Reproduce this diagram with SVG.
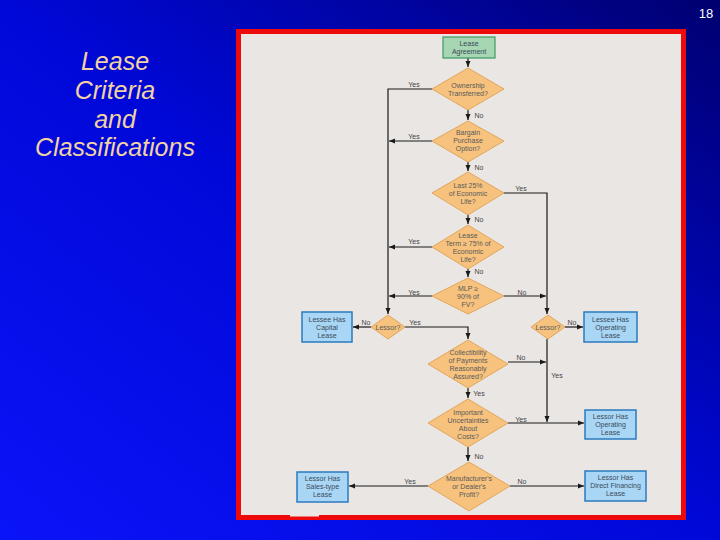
<svg xmlns="http://www.w3.org/2000/svg" width="720" height="540" viewBox="0 0 720 540">
<defs>
<linearGradient id="bg" x1="0" y1="1" x2="1" y2="0">
<stop offset="0" stop-color="#0a14f8"/>
<stop offset="0.5" stop-color="#0008d8"/>
<stop offset="1" stop-color="#000070"/>
</linearGradient>
<marker id="ah" markerUnits="userSpaceOnUse" markerWidth="6" markerHeight="6" refX="6" refY="3" orient="auto">
<path d="M0,0.5 L6,3 L0,5.5 z" fill="#1a1a1a"/>
</marker>
<style>
.dia{fill:#f6c27e;stroke:#e2a65c;stroke-width:1}
.bb{fill:#a9d6f5;stroke:#2b7bbf;stroke-width:1.5}
.bg{fill:#a6d6b2;stroke:#3d9a62;stroke-width:1.2}
.t{font-family:"Liberation Sans",Arial,sans-serif;font-size:7px;fill:#5a5a5a;text-anchor:middle}
.bt{font-family:"Liberation Sans",Arial,sans-serif;font-size:7px;fill:#3a4a5a;text-anchor:middle}
.l{font-family:"Liberation Sans",Arial,sans-serif;font-size:7px;fill:#444;text-anchor:middle}
.ln{stroke:#1a1a1a;stroke-width:1.2;fill:none}
.ttl{font-family:"Liberation Sans",Arial,sans-serif;font-size:25px;font-style:italic;fill:#f2d2a2;text-anchor:middle}
</style>
</defs>
<rect x="0" y="0" width="720" height="540" fill="url(#bg)"/>
<text x="706" y="18" font-family="Liberation Sans,Arial,sans-serif" font-size="13" fill="#ffffff" text-anchor="middle">18</text>
<g id="title">
<text class="ttl" x="115" y="70">Lease</text>
<text class="ttl" x="115" y="99">Criteria</text>
<text class="ttl" x="115" y="128">and</text>
<text class="ttl" x="115" y="156">Classifications</text>
</g>
<rect x="238.5" y="31.5" width="445" height="486" fill="#e9e6e3" stroke="#ee0a0a" stroke-width="5"/>
<rect x="290" y="514" width="29" height="2.5" fill="#e9e6e3"/>

<g id="connectors">
<path class="ln" d="M468,58 V67" marker-end="url(#ah)"/>
<path class="ln" d="M468,110 V120" marker-end="url(#ah)"/>
<path class="ln" d="M468,162 V171" marker-end="url(#ah)"/>
<path class="ln" d="M468,215 V224" marker-end="url(#ah)"/>
<path class="ln" d="M468,269 V277" marker-end="url(#ah)"/>
<path class="ln" d="M432,89 H388 V314" marker-end="url(#ah)"/>
<path class="ln" d="M432,141 H389" marker-end="url(#ah)"/>
<path class="ln" d="M432,247 H389" marker-end="url(#ah)"/>
<path class="ln" d="M432,296 H389" marker-end="url(#ah)"/>
<path class="ln" d="M504,193 H547 V314" marker-end="url(#ah)"/>
<path class="ln" d="M504,296 H546" marker-end="url(#ah)"/>
<path class="ln" d="M371,327 H353" marker-end="url(#ah)"/>
<path class="ln" d="M405,327 H468 V339" marker-end="url(#ah)"/>
<path class="ln" d="M565,327 H583" marker-end="url(#ah)"/>
<path class="ln" d="M547,339 V422" marker-end="url(#ah)"/>
<path class="ln" d="M508,362 H546" marker-end="url(#ah)"/>
<path class="ln" d="M468,388 V398" marker-end="url(#ah)"/>
<path class="ln" d="M508,423 H584" marker-end="url(#ah)"/>
<path class="ln" d="M468,447 V461" marker-end="url(#ah)"/>
<path class="ln" d="M428,486 H349" marker-end="url(#ah)"/>
<path class="ln" d="M510,486 H584" marker-end="url(#ah)"/>
<text class="l" x="414" y="87">Yes</text>
<text class="l" x="479" y="118">No</text>
<text class="l" x="414" y="139">Yes</text>
<text class="l" x="479" y="170">No</text>
<text class="l" x="521" y="191">Yes</text>
<text class="l" x="479" y="222">No</text>
<text class="l" x="414" y="244">Yes</text>
<text class="l" x="479" y="274">No</text>
<text class="l" x="414" y="295">Yes</text>
<text class="l" x="522" y="295">No</text>
<text class="l" x="366" y="325">No</text>
<text class="l" x="415" y="325">Yes</text>
<text class="l" x="572" y="325">No</text>
<text class="l" x="557" y="378">Yes</text>
<text class="l" x="521" y="360">No</text>
<text class="l" x="479" y="396">Yes</text>
<text class="l" x="521" y="422">Yes</text>
<text class="l" x="479" y="459">No</text>
<text class="l" x="410" y="484">Yes</text>
<text class="l" x="522" y="484">No</text>
</g>

<g id="lease-agreement">
<rect class="bg" x="443" y="37" width="52" height="21"/>
<text class="bt" x="469" y="46">Lease</text>
<text class="bt" x="469" y="54">Agreement</text>
</g>
<g id="ownership">
<polygon class="dia" points="468,68 504,89 468,110 432,89"/>
<text class="t" x="468" y="88">Ownership</text>
<text class="t" x="468" y="96">Transferred?</text>
</g>
<g id="bargain">
<polygon class="dia" points="468,121 504,141 468,162 432,141"/>
<text class="t" x="468" y="135">Bargain</text>
<text class="t" x="468" y="143">Purchase</text>
<text class="t" x="468" y="151">Option?</text>
</g>
<g id="last25">
<polygon class="dia" points="468,172 504,193 468,215 432,193"/>
<text class="t" x="468" y="188">Last 25%</text>
<text class="t" x="468" y="196">of Economic</text>
<text class="t" x="468" y="204">Life?</text>
</g>
<g id="leaseterm">
<polygon class="dia" points="468,225 504,247 468,269 432,247"/>
<text class="t" x="468" y="238">Lease</text>
<text class="t" x="468" y="246">Term ≥ 75% of</text>
<text class="t" x="468" y="254">Economic</text>
<text class="t" x="468" y="262">Life?</text>
</g>
<g id="mlp">
<polygon class="dia" points="468,278 504,296 468,314 432,296"/>
<text class="t" x="468" y="291">MLP ≥</text>
<text class="t" x="468" y="299">90% of</text>
<text class="t" x="468" y="307">FV?</text>
</g>
<g id="lessor-left">
<polygon class="dia" points="388,315 405,327 388,339 371,327"/>
<text class="t" x="388" y="329.5">Lessor?</text>
</g>
<g id="lessor-right">
<polygon class="dia" points="548,315 565,327 548,339 531,327"/>
<text class="t" x="548" y="329.5">Lessor?</text>
</g>
<g id="lessee-capital">
<rect class="bb" x="302" y="312" width="50" height="30"/>
<text class="bt" x="327" y="322">Lessee Has</text>
<text class="bt" x="327" y="330">Capital</text>
<text class="bt" x="327" y="338">Lease</text>
</g>
<g id="lessee-operating">
<rect class="bb" x="584" y="312" width="53" height="30"/>
<text class="bt" x="610.5" y="322">Lessee Has</text>
<text class="bt" x="610.5" y="330">Operating</text>
<text class="bt" x="610.5" y="338">Lease</text>
</g>
<g id="collectibility">
<polygon class="dia" points="468,340 508,364 468,388 428,364"/>
<text class="t" x="468" y="355">Collectibility</text>
<text class="t" x="468" y="363">of Payments</text>
<text class="t" x="468" y="371">Reasonably</text>
<text class="t" x="468" y="379">Assured?</text>
</g>
<g id="uncertainties">
<polygon class="dia" points="468,399 508,423 468,447 428,423"/>
<text class="t" x="468" y="415">Important</text>
<text class="t" x="468" y="423">Uncertainties</text>
<text class="t" x="468" y="431">About</text>
<text class="t" x="468" y="439">Costs?</text>
</g>
<g id="lessor-operating">
<rect class="bb" x="585" y="410" width="51" height="29"/>
<text class="bt" x="610.5" y="419">Lessor Has</text>
<text class="bt" x="610.5" y="427">Operating</text>
<text class="bt" x="610.5" y="435">Lease</text>
</g>
<g id="profit">
<polygon class="dia" points="469,462 510,486 469,511 428,486"/>
<text class="t" x="469" y="481">Manufacturer's</text>
<text class="t" x="469" y="489">or Dealer's</text>
<text class="t" x="469" y="497">Profit?</text>
</g>
<g id="lessor-sales">
<rect class="bb" x="297" y="472" width="51" height="30"/>
<text class="bt" x="322.5" y="481">Lessor Has</text>
<text class="bt" x="322.5" y="489">Sales-type</text>
<text class="bt" x="322.5" y="497">Lease</text>
</g>
<g id="lessor-direct">
<rect class="bb" x="585" y="471" width="61" height="30"/>
<text class="bt" x="615.5" y="480">Lessor Has</text>
<text class="bt" x="615.5" y="488">Direct Financing</text>
<text class="bt" x="615.5" y="496">Lease</text>
</g>
</svg>
